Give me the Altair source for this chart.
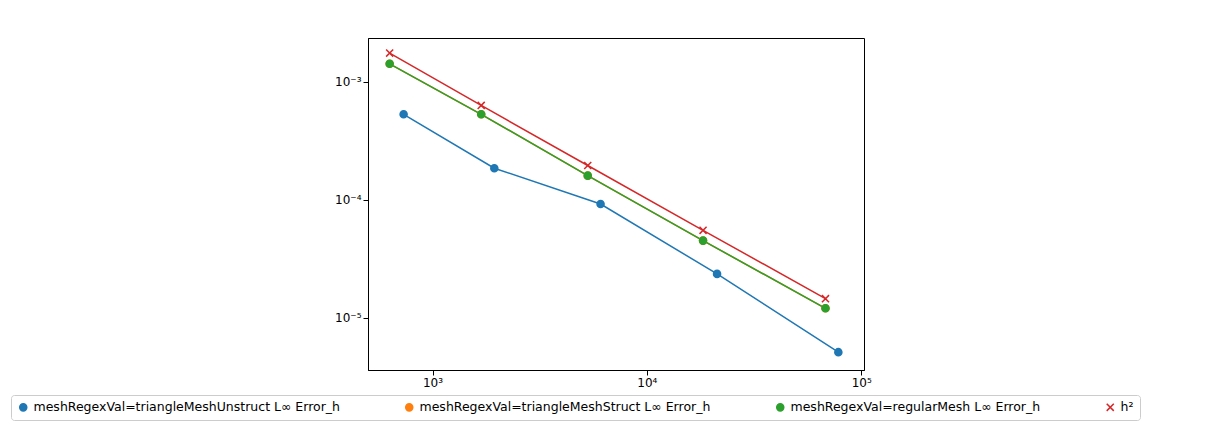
import altair as alt
import pandas as pd

names = ["meshRegexVal=triangleMeshUnstruct L∞ Error_h",
         "meshRegexVal=triangleMeshStruct L∞ Error_h",
         "meshRegexVal=regularMesh L∞ Error_h",
         "h²"]
colors = ["#1f77b4", "#ff7f0e", "#2ca02c", "#d62728"]
blue_x = [733, 1942, 6080, 21250, 78200]
blue_y = [5.3e-4, 1.85e-4, 9.2e-5, 2.35e-5, 5.1e-6]
green_x = [631, 1687, 5297, 18280, 68100]
green_y = [1.42e-3, 5.3e-4, 1.6e-4, 4.5e-5, 1.2e-5]
red_y = [1.75e-3, 6.3e-4, 1.95e-4, 5.5e-5, 1.45e-5]

rows = []
for s, xs, ys in [(names[0], blue_x, blue_y), (names[1], green_x, green_y),
                  (names[2], green_x, green_y), (names[3], green_x, red_y)]:
    for i, (x, y) in enumerate(zip(xs, ys)):
        rows.append({"s": s, "x": x, "y": y, "o": names.index(s)})
df = pd.DataFrame(rows)

xcross = "M-1,-1L1,1M-1,1L1,-1"
color = alt.Color("s:N", scale=alt.Scale(domain=names, range=colors), sort=names,
                  legend=alt.Legend(title=None, orient="none", legendX=-357, legendY=357,
                                    columns=4, columnPadding=62, labelFontSize=12.5,
                                    labelLimit=400, symbolSize=50, symbolStrokeWidth=1.5,
                                    symbolOpacity=1, padding=6, strokeColor="#cccccc",
                                    fillColor="white", cornerRadius=3, labelFont="DejaVu Sans"))
shape = alt.Shape("s:N", scale=alt.Scale(domain=names, range=["circle", "circle", "circle", xcross]),
                  sort=names, legend=None)

xlab = "datum.value==1000?'10³':datum.value==10000?'10⁴':'10⁵'"
ylab = "datum.value==0.001?'10⁻³':datum.value==0.0001?'10⁻⁴':'10⁻⁵'"
x = alt.X("x:Q", scale=alt.Scale(type="log", domain=[500, 103000], nice=False),
          axis=alt.Axis(title=None, values=[1000, 10000, 100000], labelExpr=xlab, grid=False,
                        labelFontSize=12, labelFont="DejaVu Sans", domainColor="black", tickColor="black"))
y = alt.Y("y:Q", scale=alt.Scale(type="log", domain=[3.6e-6, 2.35e-3], nice=False),
          axis=alt.Axis(title=None, values=[1e-3, 1e-4, 1e-5], labelExpr=ylab, grid=False,
                        labelFontSize=12, labelFont="DejaVu Sans", domainColor="black", tickColor="black"))

base = alt.Chart(df)
lines = base.mark_line(strokeWidth=1.5).encode(x=x, y=y, color=color, detail="s:N", order="x:Q")
pts = base.mark_point(filled=True, size=50, strokeWidth=1.5, opacity=1).encode(
    x=x, y=y, color=color, stroke=alt.Stroke("s:N", scale=alt.Scale(domain=names, range=colors), legend=None),
    shape=shape, order="o:Q")

chart = alt.layer(lines, pts).properties(
    width=496, height=332, autosize=alt.AutoSizeParams(type="none"),
    padding={"left": 360, "top": 30, "right": 355, "bottom": 55}
).configure_view(stroke="black", strokeWidth=1)

chart.save("out.html", embed_options={"renderer": "svg", "actions": False})
